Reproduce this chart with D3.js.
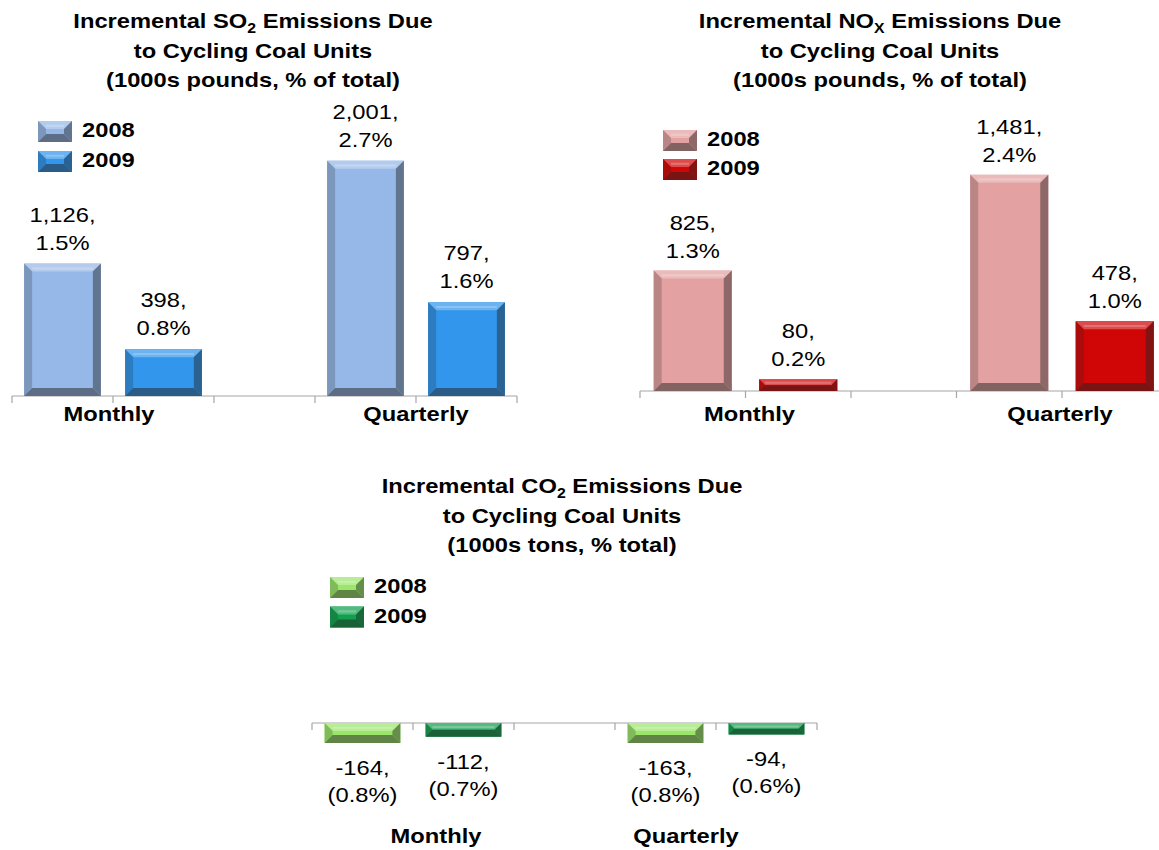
<!DOCTYPE html>
<html>
<head>
<meta charset="utf-8">
<script src="https://cdn.jsdelivr.net/npm/d3@7"></script>
<style>
  body { margin: 0; background: #fff; }
  svg text { font-family: "Liberation Sans", Arial, Helvetica, sans-serif; fill: #000; }
</style>
</head>
<body>
<svg id="chart" width="1159" height="850"></svg>
<script>
'use strict';

const periods = ['Monthly', 'Quarterly'];
const years = ['2008', '2009'];

const so2_2008 = [1126, 2001];
const so2_2009 = [398, 797];
const so2Pct_2008 = [1.5, 2.7];
const so2Pct_2009 = [0.8, 1.6];

const nox_2008 = [825, 1481];
const nox_2009 = [80, 478];
const noxPct_2008 = [1.3, 2.4];
const noxPct_2009 = [0.2, 1.0];

const co2_2008 = [-164, -163];
const co2_2009 = [-112, -94];
const co2Pct_2008 = [-0.8, -0.8];
const co2Pct_2009 = [-0.7, -0.6];

// the source picture is a bit stretched sideways, so text is too
const SX = 1.13;

const locale = d3.formatLocale({ decimal: '.', thousands: ',', grouping: [3], currency: ['$', ''], minus: '-' });
const fmtVal = locale.format(','),
  fmtPct = locale.format('.1f');

const svg = d3.select('#chart');

function addText(g, x, y, s, size, weight, anchor) {
  return g.append('text')
    .attr('transform', 'translate(' + x + ',' + y + ') scale(' + SX + ',1)')
    .attr('text-anchor', anchor || 'middle')
    .style('font-size', size + 'px')
    .style('font-weight', weight)
    .text(s);
}

// bevelled box, like the office "bevel" bar effect
function bevelBox(g, x, y, w, h, color, bsize) {
  const b = Math.min(bsize, h / 2, w / 2),
    top = d3.interpolateRgb(color, '#fff')(0.28),
    line = d3.interpolateRgb(color, '#fff')(0.5),
    left = d3.interpolateRgb(color, '#222')(0.22),
    right = d3.interpolateRgb(color, '#222')(0.45),
    bottom = d3.interpolateRgb(color, '#222')(0.5);
  const pts = (a) => a.map((p) => p.join(',')).join(' ');
  const box = g.append('g');
  box.append('rect').attr('x', x).attr('y', y).attr('width', w).attr('height', h).attr('fill', color);
  box.append('polygon').attr('fill', top)
    .attr('points', pts([[x, y], [x + w, y], [x + w - b, y + b], [x + b, y + b]]));
  box.append('polygon').attr('fill', left)
    .attr('points', pts([[x, y], [x + b, y + b], [x + b, y + h - b], [x, y + h]]));
  box.append('polygon').attr('fill', right)
    .attr('points', pts([[x + w, y], [x + w, y + h], [x + w - b, y + h - b], [x + w - b, y + b]]));
  box.append('polygon').attr('fill', bottom)
    .attr('points', pts([[x, y + h], [x + b, y + h - b], [x + w - b, y + h - b], [x + w, y + h]]));
  if (b > 3) {
    box.append('line')
      .attr('x1', x + b).attr('x2', x + w - b)
      .attr('y1', y + b * 0.6).attr('y2', y + b * 0.6)
      .attr('stroke', line).attr('stroke-width', 2).attr('opacity', 0.7);
  }
  return box;
}

function drawChart(cfg) {
  const g = svg.append('g');

  // five slots: two bars per period and an empty one between
  const slots = [periods[0] + '|' + years[0], periods[0] + '|' + years[1], 'gap',
    periods[1] + '|' + years[0], periods[1] + '|' + years[1]];

  const x = d3.scaleBand().domain(slots).range(cfg.xRange).paddingInner(0).paddingOuter(0),
    y = d3.scaleLinear().domain(cfg.yDomain).range(cfg.yRange);

  const y0 = y(0),
    barW = x.bandwidth() * cfg.barRatio;

  // title
  cfg.title.forEach((ln, i) => {
    const t = addText(g, cfg.titleX, cfg.titleY + i * cfg.titleStep, '', 21, 'bold');
    if (ln.sub) {
      t.append('tspan').text(ln.pre);
      t.append('tspan').attr('dy', 5).style('font-size', '14px').text(ln.sub);
      t.append('tspan').attr('dy', -5).text(ln.post);
    } else {
      t.text(ln.pre);
    }
  });

  // axis line and ticks at slot boundaries
  g.append('line')
    .attr('x1', cfg.xRange[0]).attr('x2', cfg.xRange[1])
    .attr('y1', y0).attr('y2', y0)
    .attr('stroke', '#a6a6a6').attr('stroke-width', 1.2);
  const ticks = slots.map((s) => x(s)).concat([cfg.xRange[1]]);
  g.selectAll('.tick')
    .data(ticks)
    .enter()
    .append('line')
    .attr('x1', (d) => d).attr('x2', (d) => d)
    .attr('y1', y0).attr('y2', y0 + 7)
    .attr('stroke', '#a6a6a6').attr('stroke-width', 1.2);

  const rows = [];
  periods.forEach((p, i) => {
    years.forEach((yr, j) => {
      rows.push({ period: p, year: yr, value: cfg.values[j][i], pct: cfg.pcts[j][i], color: cfg.colors[j] });
    });
  });

  rows.forEach((d) => {
    const cx = x(d.period + '|' + d.year) + x.bandwidth() / 2,
      top = Math.min(y(d.value), y0),
      h = Math.abs(y(d.value) - y0);
    bevelBox(g, cx - barW / 2, top, barW, h, d.color, 8);

    const l1 = fmtVal(d.value) + ',',
      l2 = d.pct < 0 ? '(' + fmtPct(-d.pct) + '%)' : fmtPct(d.pct) + '%';
    if (d.value >= 0) {
      addText(g, cx, top - cfg.labelGap - 28, l1, 21, 'normal');
      addText(g, cx, top - cfg.labelGap, l2, 21, 'normal');
    } else {
      addText(g, cx, top + h + 32, l1, 21, 'normal');
      addText(g, cx, top + h + 59, l2, 21, 'normal');
    }
  });

  // period labels under the axis
  periods.forEach((p, i) => {
    const cx = (x(p + '|' + years[0]) + x(p + '|' + years[1]) + x.bandwidth()) / 2;
    addText(g, cx + cfg.catShift[i], cfg.catY, p, 21, 'bold');
  });

  // legend
  years.forEach((yr, j) => {
    const ly = cfg.legend[1] + j * cfg.legendStep;
    bevelBox(g, cfg.legend[0], ly, 34, 21, cfg.colors[j], 8);
    addText(g, cfg.legend[0] + 44, ly + 16, yr, 21, 'bold', 'start');
  });
}

drawChart({
  title: [
    { pre: 'Incremental SO', sub: '2', post: ' Emissions Due' },
    { pre: 'to Cycling Coal Units' },
    { pre: '(1000s pounds, % of total)' }
  ],
  titleX: 253, titleY: 28, titleStep: 29.5,
  values: [so2_2008, so2_2009],
  pcts: [so2Pct_2008, so2Pct_2009],
  colors: ['#96b8e8', '#3196ec'],
  xRange: [12, 517],
  yDomain: [0, 2500],
  yRange: [396, 102],
  barRatio: 0.76,
  labelGap: 14,
  catY: 421,
  catShift: [-4, 0],
  legend: [38, 121],
  legendStep: 30
});

drawChart({
  title: [
    { pre: 'Incremental NO', sub: 'X', post: ' Emissions Due' },
    { pre: 'to Cycling Coal Units' },
    { pre: '(1000s pounds, % of total)' }
  ],
  titleX: 880, titleY: 28, titleStep: 29.5,
  values: [nox_2008, nox_2009],
  pcts: [noxPct_2008, noxPct_2009],
  colors: ['#e3a1a1', '#d00606'],
  xRange: [640, 1167.5],
  yDomain: [0, 1500],
  yRange: [391, 172],
  barRatio: 0.74,
  labelGap: 13,
  catY: 421,
  catShift: [4, -2],
  legend: [663, 130],
  legendStep: 29
});

drawChart({
  title: [
    { pre: 'Incremental CO', sub: '2', post: ' Emissions Due' },
    { pre: 'to Cycling Coal Units' },
    { pre: '(1000s tons, % total)' }
  ],
  titleX: 562, titleY: 493, titleStep: 29.5,
  values: [co2_2008, co2_2009],
  pcts: [co2Pct_2008, co2Pct_2009],
  colors: ['#9be66a', '#12a04e'],
  xRange: [312, 817],
  yDomain: [-200, 0],
  yRange: [747.4, 723],
  barRatio: 0.75,
  labelGap: 14,
  catY: 843,
  catShift: [23, -30],
  legend: [330, 577],
  legendStep: 29.5
});
</script>
</body>
</html>
